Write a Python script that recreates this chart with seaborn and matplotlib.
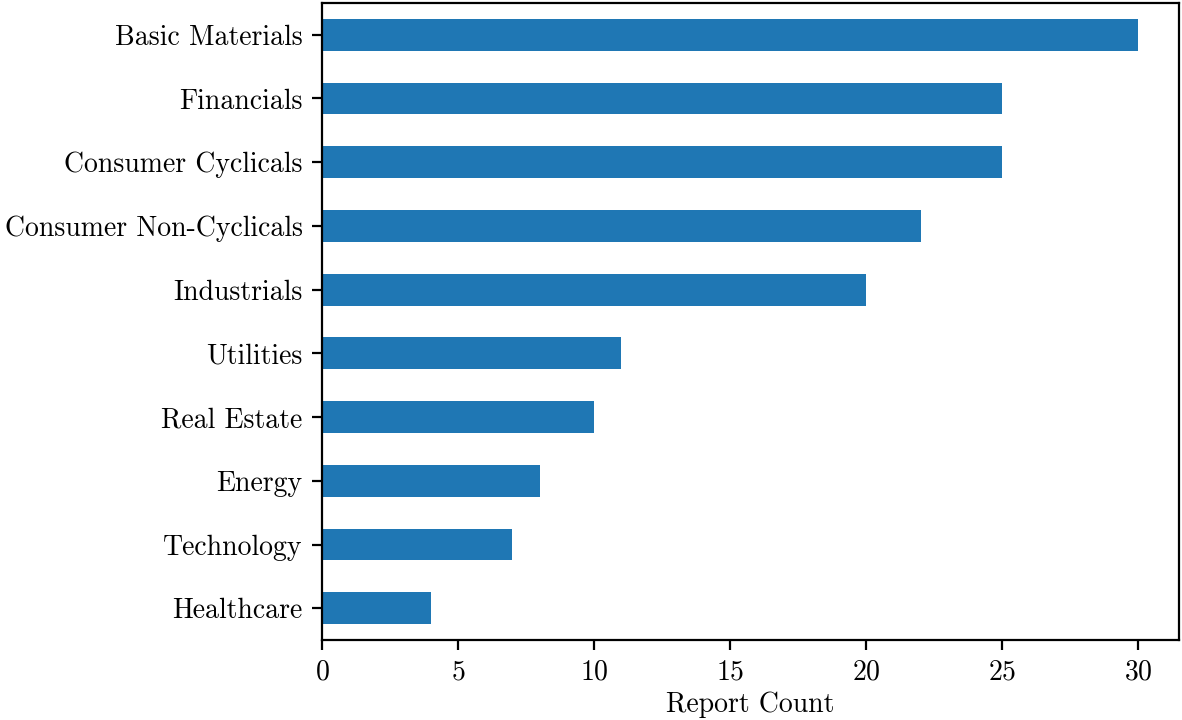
import matplotlib
matplotlib.use("Agg")
import matplotlib.pyplot as plt
import seaborn as sns
import pandas as pd

# sector counts, top to bottom as drawn
sectors = ["Basic Materials", "Financials", "Consumer Cyclicals", "Consumer Non-Cyclicals",
           "Industrials", "Utilities", "Real Estate", "Energy", "Technology", "Healthcare"]
counts = [30, 25, 25, 22, 20, 11, 10, 8, 7, 4]

df = pd.DataFrame({"sector": sectors, "count": counts})

plt.rcParams["font.family"] = ["cmr10", "DejaVu Serif"]
plt.rcParams["axes.formatter.use_mathtext"] = True
plt.rcParams["font.size"] = 10

fig, ax = plt.subplots(figsize=(5.91, 3.6), dpi=200)
sns.barplot(data=df, x="count", y="sector", orient="h", color="#1f77b4",
            saturation=1, width=0.5, ax=ax)

ax.set_xlim(0, 31.5)
ax.set_ylim(9.5, -0.5)
ax.set_xticks(range(0, 31, 5))
ax.set_xlabel("Report Count", labelpad=2)
ax.set_ylabel("")

plt.subplots_adjust(left=0.2724, right=0.9975, top=0.996, bottom=0.111)
fig.savefig("out.png", dpi=200)
